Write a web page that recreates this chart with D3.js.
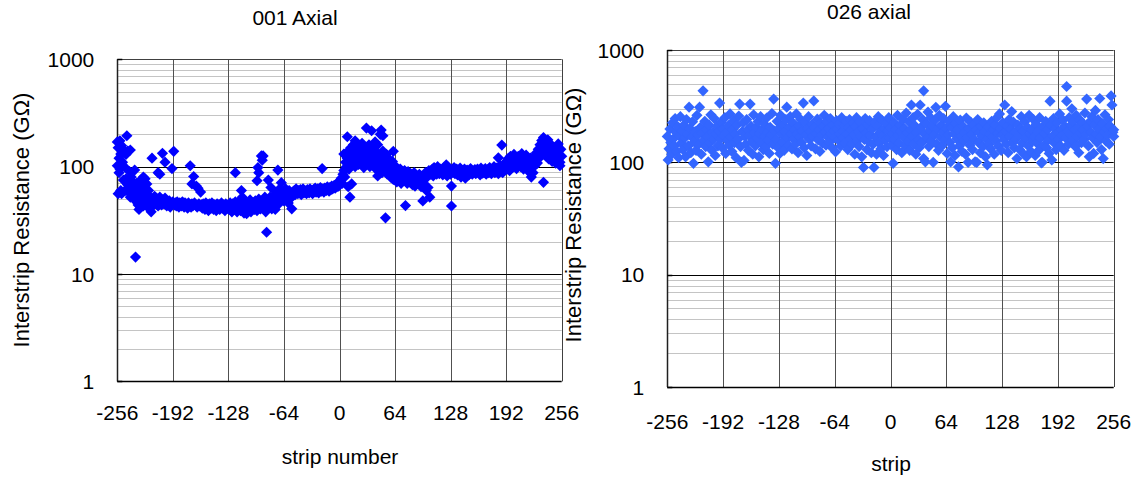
<!DOCTYPE html>
<html>
<head>
<meta charset="utf-8">
<script src="https://cdn.jsdelivr.net/npm/d3@7"></script>
<style>
  html, body { margin: 0; padding: 0; background: #fff; }
  svg { display: block; font-family: "Liberation Sans", Arial, sans-serif; }
</style>
</head>
<body>
<script>
// Interstrip resistance per strip, [strip, resistance in GΩ]
const axial001 = [
  [-256,102],[-256,170],[-255,56],[-255,150],[-254,88],[-254,120],[-253,174],[-253,95],[-252,131],[-252,60],
  [-251,157],[-251,56],[-250,110],[-249,143],[-249,75],[-248,100],[-247,60],[-246,77],[-246,130],[-245,194],
  [-244,140],[-244,68],[-243,58],[-242,90],[-241,143],[-241,52],[-240,80],[-239,62],[-238,56],[-238,72],
  [-237,64],[-236,93],[-236,50],[-235,14.4],[-234,70],[-234,47],[-233,55],[-232,44],[-231,40],[-231,62],
  [-230,52],[-229,75],[-229,46],[-228,58],[-227,49],[-226,80],[-226,43],[-225,66],[-224,77],[-224,50],
  [-223,45],[-222,69],[-222,54],[-221,42],[-220,60],[-219,48],[-218,52],[-217,38],[-216,120],[-216,46],
  [-215,50],[-214,44],[-213,53],[-212,47],[-211,45],[-210,50],[-209,88],[-209,43],[-208,48],[-207,85],
  [-207,52],[-206,46],[-205,44],[-204,133],[-204,49],[-203,47],[-202,45],[-201,110],[-201,51],[-200,46],
  [-199,43],[-198,46],[-197,44],[-196,48],[-195,42],[-194,45],[-193,96],[-192,47],[-191,139],[-190,44],
  [-189,46],[-188,43],[-187,47],[-186,44],[-185,42],[-184,46],[-183,45],[-182,43],[-181,47],[-180,44],
  [-179,42],[-178,46],[-177,45],[-176,43],[-175,41],[-174,46],[-172,102],[-172,44],[-171,42],[-170,69],
  [-170,45],[-169,43],[-168,81],[-167,46],[-166,44],[-165,66],[-164,42],[-163,63],[-162,45],[-161,43],
  [-160,58],[-159,44],[-158,41],[-157,45],[-156,43],[-155,40],[-154,46],[-153,42],[-152,44],[-151,39],
  [-150,45],[-149,43],[-148,41],[-147,46],[-146,42],[-145,40],[-144,44],[-143,43],[-142,39],[-141,45],
  [-140,42],[-139,44],[-138,40],[-137,43],[-136,46],[-135,41],[-134,44],[-133,42],[-132,39],[-131,45],
  [-130,43],[-129,41],[-128,44],[-127,40],[-126,46],[-125,42],[-124,38],[-123,45],[-122,43],[-121,40],
  [-120,88],[-120,47],[-119,42],[-118,38],[-117,44],[-116,41],[-115,48],[-114,39],[-113,60],[-113,43],
  [-112,52],[-111,40],[-110,37],[-109,45],[-108,42],[-107,36.5],[-106,46],[-105,40],[-104,43],[-103,49],
  [-102,38],[-101,44],[-100,42],[-99,46],[-98,40],[-97,48],[-96,43],[-95,74],[-95,39],[-94,98],
  [-94,45],[-93,88],[-93,50],[-92,41],[-91,40.5],[-90,126],[-90,47],[-89,115],[-88,126],[-87,44],
  [-86,52],[-85,38],[-84,24.5],[-83,46],[-82,75],[-81,42],[-80,52],[-79,64],[-78,40.5],[-77,48],
  [-76,44],[-75,55],[-74,40],[-73,50],[-72,58],[-71,93],[-70,45],[-69,62],[-68,55],[-67,71],
  [-66,50],[-65,58],[-64,48],[-63,54],[-62,62],[-61,50],[-60,56],[-59,46],[-58,60],[-57,50],
  [-56,54],[-55,40.5],[-54,58],[-53,57],[-52,60],[-51,55],[-50,62],[-49,58],[-48,56],[-47,60],
  [-46,57],[-45,61],[-44,55],[-43,59],[-42,62],[-41,57],[-40,60],[-39,58],[-38,56],[-37,61],
  [-36,59],[-35,57],[-34,62],[-33,60],[-32,58],[-31,56],[-30,61],[-29,59],[-28,63],[-27,58],
  [-26,60],[-25,62],[-24,57],[-23,61],[-22,64],[-21,59],[-20,96],[-20,60],[-19,62],[-18,58],
  [-17,63],[-16,61],[-15,60],[-14,65],[-13,62],[-12,59],[-11,64],[-10,61],[-9,66],[-8,62],
  [-7,64],[-6,67],[-5,63],[-4,68],[-3,65],[-2,70],[-1,66],[0,72],[1,75],[2,78],
  [3,70],[4,85],[5,92],[5,131],[6,80],[7,110],[8,100],[9,190],[9,120],[10,140],
  [10,65],[11,95],[12,52],[12,105],[13,150],[14,69],[14,125],[15,110],[16,160],[17,130],
  [18,174],[18,100],[19,140],[20,118],[21,155],[22,105],[23,130],[24,145],[25,112],[26,165],
  [27,125],[28,98],[29,150],[30,135],[31,229],[31,110],[32,140],[33,120],[34,160],[35,100],
  [36,145],[37,216],[37,128],[38,105],[39,150],[40,118],[41,170],[42,95],[43,135],[44,82],
  [44,160],[45,110],[46,106],[47,200],[48,219],[48,125],[49,88],[50,194],[50,140],[51,100],
  [52,115],[53,33.4],[53,92],[54,130],[55,85],[56,120],[57,95],[58,105],[59,80],[60,88],
  [61,112],[62,139],[62,76],[63,92],[64,84],[65,100],[66,72],[67,90],[68,78],[69,86],
  [70,95],[71,70],[72,82],[73,88],[74,75],[75,92],[76,43.4],[76,80],[77,85],[78,70],
  [79,90],[80,78],[81,72],[82,86],[83,80],[84,68],[85,75],[86,88],[87,66],[88,74],
  [89,82],[90,70],[91,78],[92,85],[93,72],[94,65],[95,80],[96,48],[97,75],[98,68],
  [99,88],[100,60],[101,80],[102,64],[103,92],[104,52],[105,85],[106,90],[107,95],[108,82],
  [109,98],[110,88],[111,92],[112,85],[113,100],[114,90],[115,86],[116,95],[117,88],[118,92],
  [119,84],[120,97],[121,90],[122,87],[123,104],[124,82],[125,91],[126,96],[127,88],[128,85],
  [129,66],[129,43],[130,93],[131,89],[132,98],[133,86],[134,91],[135,95],[136,84],[137,90],
  [138,88],[139,97],[140,80],[141,92],[142,89],[143,86],[144,95],[145,78],[146,90],[147,93],
  [148,87],[149,84],[150,92],[151,96],[152,88],[153,85],[154,91],[155,89],[156,94],[157,86],
  [158,90],[159,95],[160,88],[161,92],[162,84],[163,97],[164,90],[165,87],[166,93],[167,89],
  [168,96],[169,85],[170,91],[171,94],[172,88],[173,98],[174,90],[175,86],[176,95],[177,92],
  [178,100],[179,88],[180,93],[181,97],[182,90],[183,121],[183,86],[184,95],[185,102],[186,92],
  [187,159],[187,98],[188,88],[189,105],[190,94],[191,100],[192,110],[193,95],[194,118],[195,105],
  [196,92],[197,125],[198,108],[199,98],[200,115],[201,130],[202,102],[203,120],[204,96],[205,112],
  [206,125],[207,105],[208,118],[209,100],[210,132],[211,110],[212,95],[213,122],[214,108],[215,128],
  [216,100],[217,115],[218,90],[219,105],[220,120],[221,80],[221,98],[222,112],[223,88],[224,125],
  [225,102],[226,115],[227,135],[228,108],[229,145],[230,120],[231,160],[232,130],[233,175],[234,150],
  [235,187],[235,71.5],[236,140],[237,165],[238,125],[239,155],[240,178],[241,118],[242,145],[243,130],
  [244,160],[245,112],[246,140],[247,125],[248,150],[249,108],[250,135],[251,120],[252,163],[253,130],
  [254,110],[254,102],[255,145],[256,125]
];

const axial026 = [
  [-256,170],[-255,105],[-254,132],[-253,198],[-252,150],[-251,118],[-250,225],[-249,162],[-248,140],[-247,245],
  [-246,185],[-245,125],[-244,208],[-243,110],[-242,172],[-241,255],[-240,148],[-239,190],[-238,130],[-237,215],
  [-236,165],[-235,112],[-234,240],[-233,178],[-232,140],[-231,310],[-230,200],[-229,122],[-228,168],[-227,230],
  [-226,98],[-225,152],[-224,188],[-223,128],[-222,262],[-221,175],[-220,145],[-219,310],[-218,205],[-217,118],
  [-216,182],[-215,433],[-214,158],[-213,232],[-212,138],[-211,195],[-210,170],[-209,101],[-208,214],[-207,150],
  [-206,265],[-205,128],[-204,185],[-203,160],[-202,245],[-201,115],[-200,178],[-199,210],[-198,140],[-197,190],
  [-196,337],[-195,162],[-194,228],[-193,135],[-192,198],[-191,172],[-190,250],[-189,120],[-188,185],[-187,155],
  [-186,212],[-185,142],[-184,270],[-183,168],[-182,125],[-181,195],[-180,235],[-179,150],[-178,178],[-177,110],
  [-176,215],[-175,160],[-174,258],[-173,330],[-172,138],[-171,100],[-170,188],[-169,225],[-168,104],[-167,170],
  [-166,145],[-165,240],[-164,195],[-163,128],[-162,172],[-161,330],[-160,210],[-159,152],[-158,118],[-157,265],
  [-156,185],[-155,140],[-154,205],[-153,165],[-152,230],[-151,112],[-150,180],[-149,255],[-148,148],[-147,195],
  [-146,130],[-145,220],[-144,170],[-143,138],[-142,248],[-141,185],[-140,158],[-139,120],[-138,205],[-137,175],
  [-136,272],[-135,145],[-134,366],[-133,190],[-132,98],[-131,160],[-130,232],[-129,135],[-128,200],[-127,120],
  [-126,262],[-125,178],[-124,150],[-123,215],[-122,128],[-121,188],[-120,240],[-119,310],[-118,165],[-117,142],
  [-116,205],[-115,255],[-114,180],[-113,132],[-112,225],[-111,160],[-110,195],[-109,145],[-108,270],[-107,178],
  [-106,122],[-105,210],[-104,168],[-103,240],[-102,150],[-101,190],[-100,337],[-99,135],[-98,228],[-97,175],
  [-96,115],[-95,200],[-94,255],[-93,160],[-92,188],[-91,140],[-90,218],[-89,170],[-88,352],[-87,205],
  [-86,132],[-85,180],[-84,242],[-83,158],[-82,195],[-81,125],[-80,222],[-79,175],[-78,148],[-77,208],
  [-76,262],[-75,185],[-74,142],[-73,230],[-72,168],[-71,200],[-70,152],[-69,245],[-68,180],[-67,135],
  [-66,215],[-65,190],[-64,165],[-63,124],[-62,235],[-61,198],[-60,158],[-59,220],[-58,178],[-57,140],
  [-56,250],[-55,188],[-54,165],[-53,212],[-52,148],[-51,232],[-50,178],[-49,130],[-48,205],[-47,240],
  [-46,162],[-45,195],[-44,145],[-43,225],[-42,175],[-41,118],[-40,210],[-39,250],[-38,155],[-37,188],
  [-36,138],[-35,228],[-34,170],[-33,112],[-32,200],[-31,90],[-30,160],[-29,245],[-28,182],[-27,130],
  [-26,215],[-25,152],[-24,235],[-23,175],[-22,122],[-21,198],[-20,145],[-19,90],[-18,228],[-17,168],
  [-16,118],[-15,210],[-14,255],[-13,148],[-12,185],[-11,132],[-10,238],[-9,172],[-8,115],[-7,200],
  [-6,158],[-5,222],[-4,138],[-3,190],[-2,250],[-1,165],[0,205],[1,142],[2,180],[3,98],
  [4,225],[5,160],[6,195],[7,130],[8,262],[9,175],[10,148],[11,215],[12,188],[13,122],
  [14,240],[15,168],[16,200],[17,140],[18,275],[19,182],[20,155],[21,230],[22,128],[23,195],
  [24,324],[25,170],[26,250],[27,145],[28,212],[29,118],[30,185],[31,268],[32,160],[33,135],
  [34,324],[35,205],[36,150],[37,240],[38,433],[38,108],[39,178],[40,101],[41,220],[42,165],
  [43,280],[44,138],[45,192],[46,250],[47,155],[48,210],[49,100],[50,175],[51,238],[52,309],
  [53,145],[54,198],[55,128],[56,262],[57,168],[58,215],[59,140],[60,185],[61,245],[62,158],
  [63,315],[64,200],[65,120],[66,175],[67,230],[68,150],[69,101],[70,205],[71,135],[72,255],
  [73,180],[74,115],[75,222],[76,162],[77,195],[78,91],[79,140],[80,238],[81,172],[82,125],
  [83,210],[84,155],[85,185],[86,118],[87,248],[88,165],[89,100],[90,200],[91,142],[92,228],
  [93,178],[94,130],[95,215],[96,160],[97,101],[98,195],[99,100],[100,240],[101,150],[102,182],
  [103,122],[104,210],[105,170],[106,138],[107,225],[108,188],[109,112],[110,160],[111,95],[112,205],
  [113,145],[114,178],[115,132],[116,232],[117,168],[118,195],[119,118],[120,215],[121,155],[122,250],
  [123,182],[124,140],[125,270],[126,200],[127,128],[128,175],[129,225],[130,160],[131,324],[132,188],
  [133,145],[134,210],[135,122],[136,240],[137,170],[138,198],[139,283],[140,150],[141,228],[142,135],
  [143,185],[144,162],[145,108],[146,215],[147,175],[148,130],[149,200],[150,255],[151,148],[152,190],
  [153,118],[154,230],[155,165],[156,112],[157,205],[158,140],[159,262],[160,178],[161,125],[162,195],
  [163,155],[164,240],[165,170],[166,115],[167,218],[168,148],[169,188],[170,128],[171,250],[172,165],
  [173,99],[174,100],[175,208],[176,142],[177,180],[178,232],[179,135],[180,195],[181,158],[182,120],
  [183,350],[184,215],[185,105],[186,172],[187,245],[188,148],[189,200],[190,130],[191,225],[192,185],
  [193,160],[194,270],[195,140],[196,195],[197,175],[198,238],[199,128],[200,210],[201,165],[202,473],
  [202,350],[203,188],[204,145],[205,250],[206,178],[207,215],[208,300],[209,155],[210,232],[211,195],
  [212,138],[213,262],[214,170],[215,205],[216,122],[217,240],[218,182],[219,150],[220,225],[221,195],
  [222,160],[223,275],[224,178],[225,366],[226,210],[227,140],[228,112],[229,232],[230,185],[231,255],
  [232,165],[233,120],[234,215],[235,290],[236,178],[237,150],[238,240],[239,198],[240,370],[241,168],
  [242,130],[243,220],[244,108],[245,185],[246,265],[247,155],[248,200],[249,175],[250,240],[251,145],
  [252,210],[253,390],[254,324],[255,185],[256,170],[256,195]
];

const stripTicks = [-256, -192, -128, -64, 0, 64, 128, 192, 256];
const resistanceTicks = [1, 10, 100, 1000];
const yTitle = "Interstrip Resistance (GΩ)";

const W = 1136, H = 477;
const svg = d3.select("body").append("svg")
  .attr("width", W).attr("height", H)
  .attr("viewBox", `0 0 ${W} ${H}`);

const diamond = r => `M0,${-r}L${r},0L0,${r}L${-r},0Z`;

function drawPanel(data, o) {
  const x = d3.scaleLinear().domain([-256, 256]).range([o.left, o.right]);
  const y = d3.scaleLog().domain([1, 1000]).range([o.bottom, o.top]);
  const g = svg.append("g");

  // minor (2..9) gridlines
  const minor = y.ticks().filter(v => !resistanceTicks.includes(v));
  g.selectAll(".minor").data(minor).join("line")
    .attr("x1", o.left).attr("x2", o.right)
    .attr("y1", d => Math.round(y(d)) + 0.5).attr("y2", d => Math.round(y(d)) + 0.5)
    .attr("stroke", "#c4c4c4").attr("stroke-width", 1);

  // vertical gridlines
  g.selectAll(".vgrid").data(stripTicks.slice(1, -1)).join("line")
    .attr("x1", d => Math.round(x(d)) + 0.5).attr("x2", d => Math.round(x(d)) + 0.5)
    .attr("y1", o.top).attr("y2", o.bottom)
    .attr("stroke", "#505050").attr("stroke-width", 1);

  // decade gridlines
  g.selectAll(".major").data(resistanceTicks.slice(1, -1)).join("line")
    .attr("x1", o.left).attr("x2", o.right)
    .attr("y1", d => Math.round(y(d)) + 0.5).attr("y2", d => Math.round(y(d)) + 0.5)
    .attr("stroke", "#000").attr("stroke-width", 1);

  // frame: top and right edges, then the axes
  g.append("line").attr("x1", o.left).attr("x2", o.right)
    .attr("y1", Math.round(y(1000)) + 0.5).attr("y2", Math.round(y(1000)) + 0.5)
    .attr("stroke", "#404040");
  g.append("line").attr("x1", Math.round(x(256)) + 0.5).attr("x2", Math.round(x(256)) + 0.5)
    .attr("y1", o.top).attr("y2", o.bottom).attr("stroke", "#404040");
  g.append("line").attr("x1", Math.round(x(-256)) + 0.5).attr("x2", Math.round(x(-256)) + 0.5)
    .attr("y1", o.top).attr("y2", o.bottom).attr("stroke", "#202020").attr("stroke-width", 1.5);
  g.append("line").attr("x1", o.left).attr("x2", o.right)
    .attr("y1", Math.round(y(1)) + 0.5).attr("y2", Math.round(y(1)) + 0.5)
    .attr("stroke", "#000").attr("stroke-width", 1.5);

  // inward ticks on the value axis
  g.selectAll(".ytick").data(resistanceTicks).join("line")
    .attr("x1", o.left).attr("x2", o.left + 5)
    .attr("y1", d => Math.round(y(d)) + 0.5).attr("y2", d => Math.round(y(d)) + 0.5)
    .attr("stroke", "#000").attr("stroke-width", 1.5);

  // tick labels
  g.selectAll(".ylab").data(resistanceTicks).join("text")
    .attr("x", o.left - 23).attr("y", d => y(d)).attr("dy", "0.36em")
    .attr("text-anchor", "end").attr("font-size", 21).attr("fill", "#000")
    .text(d => d);
  g.selectAll(".xlab").data(stripTicks).join("text")
    .attr("x", d => x(d)).attr("y", o.xTickY)
    .attr("text-anchor", "middle").attr("font-size", 21).attr("fill", "#000")
    .text(d => d);

  // titles
  g.append("text").attr("x", o.titleX).attr("y", o.titleY)
    .attr("text-anchor", "middle").attr("font-size", 21).text(o.title);
  g.append("text").attr("x", o.xTitleX).attr("y", o.xTitleY)
    .attr("text-anchor", "middle").attr("font-size", 21).text(o.xTitle);
  g.append("text")
    .attr("transform", `translate(${o.yTitleX},${o.yTitleY}) rotate(-90)`)
    .attr("text-anchor", "middle").attr("dy", "0.35em").attr("font-size", 22)
    .text(yTitle);

  // markers
  g.append("g").selectAll("path").data(data).join("path")
    .attr("transform", d => `translate(${x(d[0])},${y(d[1])})`)
    .attr("d", diamond(5.6))
    .attr("fill", o.color);
}

drawPanel(axial001, {
  left: 117.3, right: 561.7, top: 59.3, bottom: 381.4,
  color: "#0000ff",
  title: "001 Axial", titleX: 295, titleY: 25,
  xTitle: "strip number", xTitleX: 340, xTitleY: 464,
  xTickY: 420, yTitleX: 21, yTitleY: 220
});

drawPanel(axial026, {
  left: 667.3, right: 1113.7, top: 50, bottom: 387,
  color: "#3366ff",
  title: "026 axial", titleX: 869, titleY: 19,
  xTitle: "strip", xTitleX: 891, xTitleY: 471,
  xTickY: 429, yTitleX: 573, yTitleY: 215
});
</script>
</body>
</html>
